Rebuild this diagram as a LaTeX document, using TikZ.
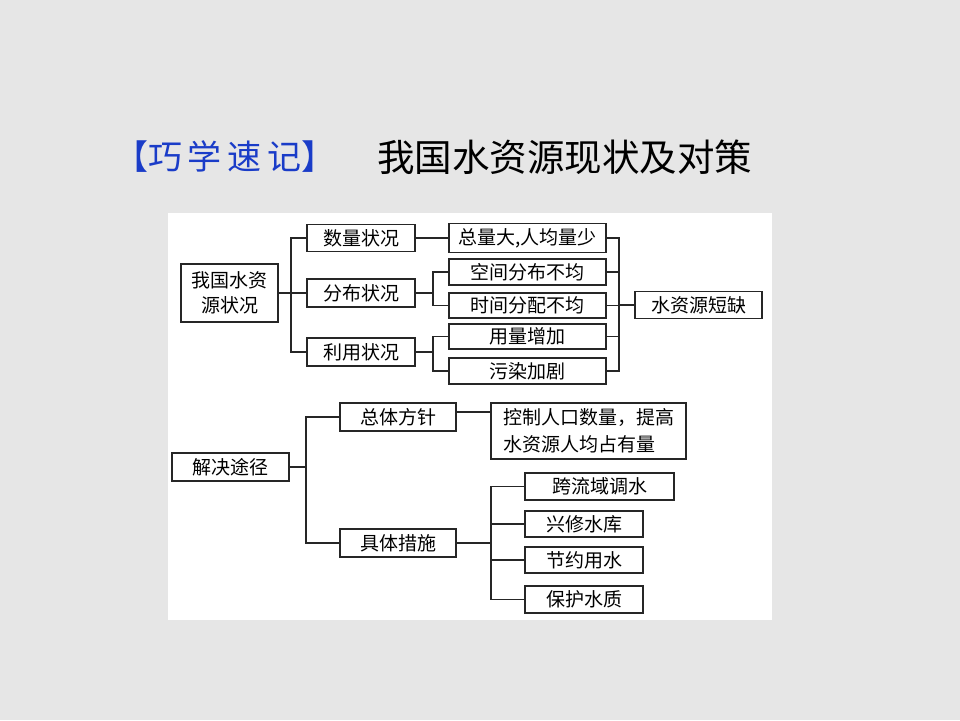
\documentclass[tikz,border=0pt]{standalone}
\usepackage{fontspec}
\newfontfamily\cjk{Noto Sans CJK SC}
\definecolor{bgray}{HTML}{E6E6E6}
\definecolor{tblue}{HTML}{1A3CC8}
\begin{document}
\begin{tikzpicture}[x=1pt,y=-1pt,
  box/.style={draw=black!85, line width=1.2pt, fill=white, inner sep=0pt,
    font=\cjk\fontsize{19}{24}\selectfont, text=black},
  conn/.style={draw=black!85, line width=1.1pt}]
\fill[bgray] (0,0) rectangle (960,720);
\useasboundingbox (0,0) rectangle (960,720);
\fill[white] (168,213) rectangle (772,620);
% title
\node[anchor=west, inner sep=0pt, text=tblue, font=\cjk\fontsize{34}{38}\selectfont] (t1) at (114,157) {【巧\,学\,速\,记】};
\node[anchor=west, inner sep=0pt, font=\cjk\fontsize{37.5}{42}\selectfont] (t2) at (377,157) {我国水资源现状及对策};
% upper part
\node[box, minimum width=97, minimum height=58, align=center, font=\cjk\fontsize{19}{25}\selectfont] (root) at (229.5,293) {我国水资\\源状况};
\node[box, minimum width=108, minimum height=27] (n1) at (361,238) {数量状况};
\node[box, minimum width=108, minimum height=28] (n2) at (361,293) {分布状况};
\node[box, minimum width=108, minimum height=28] (n3) at (361,352) {利用状况};
\node[box, minimum width=157, minimum height=29] (a1) at (527.5,238) {总量大,人均量少};
\node[box, minimum width=157, minimum height=26] (a2) at (527.5,272) {空间分布不均};
\node[box, minimum width=157, minimum height=25] (a3) at (527.5,305.5) {时间分配不均};
\node[box, minimum width=157, minimum height=25] (a4) at (527.5,336.5) {用量增加};
\node[box, minimum width=157, minimum height=26] (a5) at (527.5,371) {污染加剧};
\node[box, minimum width=127, minimum height=27] (res) at (698.5,305) {水资源短缺};
\coordinate (k1) at (291,293);
\coordinate (k2) at (433,0);
\coordinate (k3) at (619,0);
\draw[conn] (root.east) -- (k1);
\draw[conn] (n1.west) -| (k1) |- (n3.west);
\draw[conn] (k1) -- (n2.west);
\draw[conn] (n1.east) -- (a1.west);
\draw[conn] (n2.east) -- (n2.east -| k2);
\draw[conn] (a2.west) -| (k2 |- a2.west) |- (a3.west);
\draw[conn] (n3.east) -- (n3.east -| k2);
\draw[conn] (a4.west) -| (k2 |- a4.west) |- (a5.west);
\draw[conn] (a1.east) -| (k3 |- a1.east) |- (a5.east);
\draw[conn] (a2.east) -- (a2.east -| k3);
\draw[conn] (a3.east) -- (a3.east -| k3);
\draw[conn] (a4.east) -- (a4.east -| k3);
\draw[conn] (res.west -| k3) -- (res.west);
% lower part
\node[box, minimum width=117, minimum height=28] (s) at (230.5,467) {解决途径};
\node[box, minimum width=116, minimum height=28] (b1) at (398,417) {总体方针};
\node[box, minimum width=116, minimum height=28] (b2) at (398,543) {具体措施};
\node[box, minimum width=195, minimum height=56, align=left, font=\cjk\fontsize{19}{27}\selectfont] (c0) at (588.5,431) {控制人口数量，提高\\水资源人均占有量};
\node[box, minimum width=149, minimum height=27] (d1) at (599.5,486.5) {跨流域调水};
\node[box, minimum width=118, minimum height=26] (d2) at (584,524) {兴修水库};
\node[box, minimum width=118, minimum height=26] (d3) at (584,560) {节约用水};
\node[box, minimum width=118, minimum height=27] (d4) at (584,599.5) {保护水质};
\coordinate (k4) at (306,467);
\coordinate (k5) at (491,543);
\draw[conn] (s.east) -- (k4);
\draw[conn] (b1.west) -| (k4) |- (b2.west);
\draw[conn] ([yshift=5]b1.east) -- ([yshift=5]b1.east -| c0.west);
\draw[conn] (b2.east) -- (k5);
\draw[conn] (d1.west) -| (k5 |- d1.west) |- (d4.west);
\draw[conn] (d2.west) -- (d2.west -| k5);
\draw[conn] (d3.west) -- (d3.west -| k5);
\end{tikzpicture}
\end{document}
